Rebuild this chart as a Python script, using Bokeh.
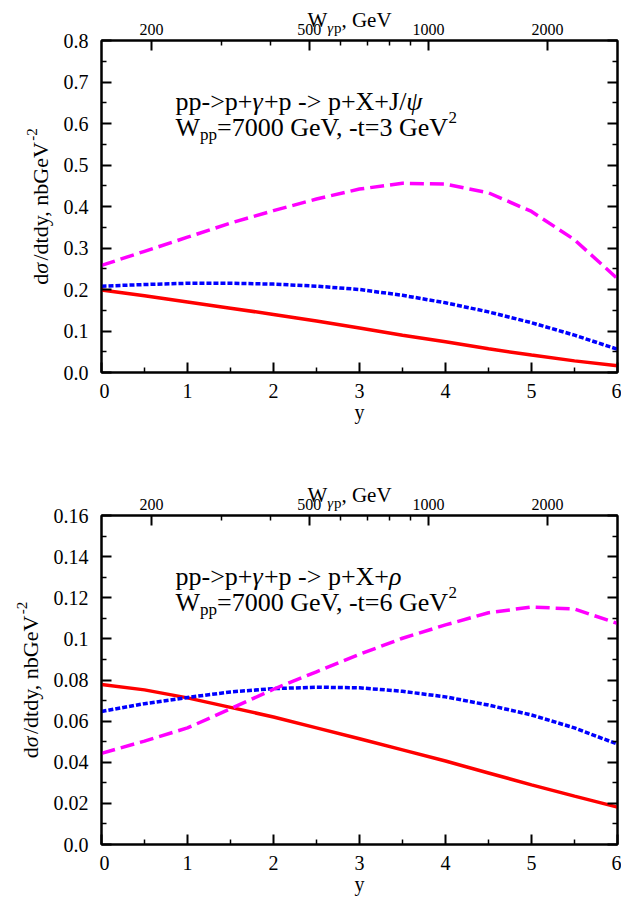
import math
from bokeh.plotting import figure
from bokeh.models import (Range1d, LinearAxis, LogAxis, LogScale, FixedTicker,
                          Label, CustomJSTickFormatter)
from bokeh.core.properties import value
from bokeh.layouts import column, row
from bokeh.embed import file_html
from bokeh.resources import INLINE

# ---------------- data ----------------
rapidity = [0.0, 0.5, 1.0, 1.5, 2.0, 2.5, 3.0, 3.5, 4.0, 4.5, 5.0, 5.5, 6.0]

# top panel: J/psi, -t = 3 GeV^2
jpsi_red = [0.199, 0.185, 0.170, 0.155, 0.140, 0.124, 0.107, 0.090, 0.074, 0.057, 0.042, 0.028, 0.016]
jpsi_blue = [0.208, 0.212, 0.215, 0.215, 0.213, 0.208, 0.200, 0.186, 0.168, 0.146, 0.120, 0.090, 0.056]
jpsi_magenta = [0.258, 0.292, 0.326, 0.360, 0.390, 0.418, 0.442, 0.456, 0.454, 0.433, 0.388, 0.320, 0.226]

# bottom panel: rho, -t = 6 GeV^2
rho_red = [0.0778, 0.0752, 0.0713, 0.0667, 0.0620, 0.0567, 0.0514, 0.0460, 0.0406, 0.0348, 0.0290, 0.0235, 0.0182]
rho_blue = [0.0647, 0.0685, 0.0715, 0.0742, 0.0758, 0.0765, 0.0762, 0.0745, 0.0718, 0.0678, 0.0630, 0.0567, 0.0488]
rho_magenta = [0.0443, 0.0503, 0.0567, 0.0660, 0.0755, 0.0840, 0.0925, 0.1003, 0.1068, 0.1127, 0.1155, 0.1145, 0.1075]

x_ticks = [0, 1, 2, 3, 4, 5, 6]
x_labels = ["0", "1", "2", "3", "4", "5", "6"]
top_y_ticks = [0.0, 0.1, 0.2, 0.3, 0.4, 0.5, 0.6, 0.7, 0.8]
top_y_labels = ["0.0", "0.1", "0.2", "0.3", "0.4", "0.5", "0.6", "0.7", "0.8"]
bot_y_ticks = [0.0, 0.02, 0.04, 0.06, 0.08, 0.10, 0.12, 0.14, 0.16]
bot_y_labels = ["0.0", "0.02", "0.04", "0.06", "0.08", "0.1", "0.12", "0.14", "0.16"]

w_major = [200, 500, 1000, 2000]
w_major_labels = ["200", "500", "1000", "2000"]
w_minor = [300, 400, 600, 700, 800, 900]
W_GP_AT_Y0 = 149.5   # W_gamma_p (GeV) at y = 0;  W = W0 * exp(y/2)

FONT = "Liberation Serif"

# ---------------- geometry ----------------
FW = 516          # frame width
PBL = 2           # left border of the panels
FR = 4            # right border
LW = 99           # width of the left strip (y tick labels + y title)
HH = 39           # height of the header strip (top axis labels + title)
PT = 1            # top border of the panels
TICK_LABEL_X = 88

# Times-like advance widths (em) for placing sub/superscripts
TW = {' ': 0.25, '-': 0.333, '>': 0.564, '+': 0.564, '=': 0.564, '/': 0.278, ',': 0.25,
      'p': 0.5, 'X': 0.722, 'J': 0.389, 'W': 0.944, 'G': 0.722, 'e': 0.444, 'V': 0.722,
      't': 0.278, 'd': 0.5, 'y': 0.5, 'n': 0.5, 'b': 0.5, 'γ': 0.44, 'ψ': 0.69,
      'σ': 0.6, 'ρ': 0.5}


def text_width(s, size):
    return sum(TW.get(c, 0.5) for c in s) * size


def mids(t):
    return [(a + b) / 2 for a, b in zip(t, t[1:])]


def fmt(vals, labs):
    return CustomJSTickFormatter(args=dict(vals=vals, labs=labs), code="""
        let b = 0, d = Infinity;
        for (let i = 0; i < vals.length; i++) {
            const e = Math.abs(vals[i] - tick);
            if (e < d) { d = e; b = i; }
        }
        return labs[b];""")


BLANK = "return '';"


def style_axis(ax, size="20px", standoff=10):
    ax.axis_line_width = 2
    ax.axis_line_color = "black"
    ax.major_tick_line_width = 2
    ax.minor_tick_line_width = 1.5
    ax.major_tick_in = 10
    ax.major_tick_out = 0
    ax.minor_tick_in = 5
    ax.minor_tick_out = 0
    ax.major_label_text_font = FONT
    ax.major_label_text_font_size = size
    ax.major_label_text_color = "black"
    ax.major_label_standoff = standoff


def bare(fig):
    fig.outline_line_color = None
    fig.background_fill_color = "white"
    fig.border_fill_color = "white"


def place(p, segs, x_px, base_from_top, ytop):
    x = x_px
    for text, size, italic, rise, dx in segs:
        x += dx
        p.add_layout(Label(x=0, y=ytop, x_offset=x, y_offset=-base_from_top + rise,
                           text=text, text_font=FONT, text_font_size=f"{size}px",
                           text_font_style="italic" if italic else "normal",
                           text_baseline="alphabetic", text_align="left",
                           text_color="black"))
        x += text_width(text, size)


def make_header(x_range, title_base, tick_base):
    h = figure(frame_width=FW, frame_height=HH, x_range=x_range, y_range=Range1d(0, HH),
               x_axis_type=None, y_axis_type=None, output_backend="svg",
               toolbar_location=None, min_border_left=PBL, min_border_right=FR,
               min_border_top=0, min_border_bottom=0)
    bare(h)
    h.extra_x_ranges = {"w": Range1d(W_GP_AT_Y0, W_GP_AT_Y0 * math.exp(6 / 2))}
    h.extra_x_scales = {"w": LogScale()}
    # top-axis tick labels, placed through the log scale of W_gamma_p
    h.text(x=w_major, y=[tick_base] * len(w_major), text=w_major_labels, x_range_name="w",
           text_font=value(FONT), text_font_size="16px", text_align="center",
           text_baseline="alphabetic", text_color="black")
    # axis title  W_{γp}, GeV
    segs = [("W", 21, False, 0), ("γ", 15, True, -8), ("p", 15, False, -8),
            (", GeV", 21, False, 0)]
    xo = 206
    for text, size, italic, rise in segs:
        h.text(x=[0], y=[title_base + rise], text=[text], x_offset=xo,
               text_font=value(FONT), text_font_size=f"{size}px",
               text_font_style="italic" if italic else "normal",
               text_align="left", text_baseline="alphabetic", text_color="black")
        xo += text_width(text, size)
    return h


def make_left(ymax, yt, yl, fh, bottom_b, base_x):
    top_off = HH + PT
    ht = top_off + fh + bottom_b
    per_px = ymax / fh
    l = figure(frame_width=LW, frame_height=ht, x_range=Range1d(0, LW),
               y_range=Range1d(-bottom_b * per_px, ymax + top_off * per_px),
               x_axis_type=None, y_axis_type=None,
               output_backend="svg", toolbar_location=None,
               min_border_left=0, min_border_right=0,
               min_border_top=0, min_border_bottom=0)
    bare(l)
    # y tick labels, on the same value scale as the panel's frame
    l.text(x=[TICK_LABEL_X] * len(yt), y=yt, text=yl,
           text_font=value(FONT), text_font_size="20px", text_align="right",
           text_baseline="middle", text_color="black")
    # rotated y title  dσ/dtdy, nbGeV^-2
    segs = [("d", 22, False, 0), ("σ", 22, True, 0), ("/dtdy, nbGeV", 22, False, 0),
            ("-2", 15, False, 9)]
    total = sum(text_width(t, s) for t, s, _, _ in segs)
    along = -total / 2
    for text, size, italic, rise in segs:
        l.text(x=[base_x - rise], y=[ymax / 2 + along * per_px], text=[text],
               angle=math.pi / 2,
               text_font=value(FONT), text_font_size=f"{size}px",
               text_font_style="italic" if italic else "normal",
               text_align="left", text_baseline="alphabetic", text_color="black")
        along += text_width(text, size)
    return l


def make_panel(x_range, ymax, yt, red, blue, mag, line1, line2, fh, border_bottom):
    p = figure(frame_width=FW, frame_height=fh,
               x_range=x_range, y_range=Range1d(0, ymax),
               x_axis_type=None, y_axis_type=None,
               output_backend="svg", toolbar_location=None,
               min_border_left=PBL, min_border_right=FR,
               min_border_top=PT, min_border_bottom=border_bottom)
    p.outline_line_color = "black"
    p.outline_line_width = 2
    p.background_fill_color = "white"
    p.border_fill_color = "white"
    p.extra_x_ranges = {"w": Range1d(W_GP_AT_Y0, W_GP_AT_Y0 * math.exp(6 / 2))}
    p.extra_x_scales = {"w": LogScale()}

    bottom = LinearAxis(ticker=FixedTicker(ticks=x_ticks, minor_ticks=mids(x_ticks)),
                        formatter=fmt(x_ticks, x_labels))
    style_axis(bottom, "20px", 11)
    bottom.axis_label = "y"
    bottom.axis_label_text_font = FONT
    bottom.axis_label_text_font_size = "20px"
    bottom.axis_label_text_font_style = "normal"
    bottom.axis_label_text_color = "black"
    bottom.axis_label_standoff = 0
    p.add_layout(bottom, "below")

    left = LinearAxis(ticker=FixedTicker(ticks=yt, minor_ticks=mids(yt)),
                      formatter=CustomJSTickFormatter(code=BLANK))
    style_axis(left, "0px", 0)
    p.add_layout(left, "left")

    right = LinearAxis(ticker=FixedTicker(ticks=yt, minor_ticks=mids(yt)),
                       formatter=CustomJSTickFormatter(code=BLANK))
    style_axis(right, "0px", 0)
    p.add_layout(right, "right")

    top = LogAxis(x_range_name="w",
                  ticker=FixedTicker(ticks=w_major, minor_ticks=w_minor),
                  formatter=CustomJSTickFormatter(code=BLANK))
    style_axis(top, "0px", 0)
    p.add_layout(top, "above")

    p.line(rapidity, red, line_color="#ff0000", line_width=3.5)
    p.line(rapidity, blue, line_color="#0000ff", line_width=3.5, line_dash="5 2")
    p.line(rapidity, mag, line_color="#ff00ff", line_width=3.5, line_dash="14 6")

    place(p, line1, 74, 61, ymax)
    place(p, line2, 74, 87, ymax)
    return p


top_line1 = [("pp->p+", 26, False, 0, 0), ("γ", 26, True, 0, 0),
             ("+p -> p+X+J/", 26, False, 0, 0), ("ψ", 26, True, 0, 0)]
top_line2 = [("W", 26, False, 0, 0), ("pp", 17, False, -7, 0),
             ("=7000 GeV, -t=3 GeV", 26, False, 0, 0), ("2", 17, False, 10, -3)]
bot_line1 = [("pp->p+", 26, False, 0, 0), ("γ", 26, True, 0, 0),
             ("+p -> p+X+", 26, False, 0, 0), ("ρ", 26, True, 0, 0)]
bot_line2 = [("W", 26, False, 0, 0), ("pp", 17, False, -7, 0),
             ("=7000 GeV, -t=6 GeV", 26, False, 0, 0), ("2", 17, False, 10, -3)]

FH1, B1 = 332, 103
FH2, B2 = 329, 55

xr1 = Range1d(0, 6)
xr2 = Range1d(0, 6)

h1 = make_header(xr1, 20, 10)
p1 = make_panel(xr1, 0.8, top_y_ticks, jpsi_red, jpsi_blue, jpsi_magenta,
                top_line1, top_line2, FH1, B1)
l1 = make_left(0.8, top_y_ticks, top_y_labels, FH1, B1, 40)

h2 = make_header(xr2, 20, 10)
p2 = make_panel(xr2, 0.16, bot_y_ticks, rho_red, rho_blue, rho_magenta,
                bot_line1, bot_line2, FH2, B2)
l2 = make_left(0.16, bot_y_ticks, bot_y_labels, FH2, B2, 30)

layout = column(row(l1, column(h1, p1, spacing=0), spacing=0),
                row(l2, column(h2, p2, spacing=0), spacing=0), spacing=0)
open("out.html", "w").write(file_html(layout, INLINE))
